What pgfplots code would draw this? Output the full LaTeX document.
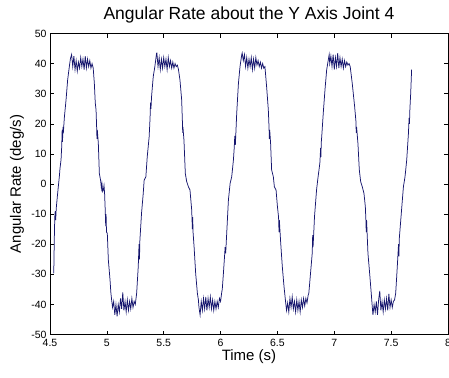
\documentclass[border=0pt]{standalone}
\usepackage{fontspec}
\setmainfont{Liberation Sans}
\usepackage{pgfplots}
\pgfplotsset{compat=1.18}
\definecolor{trace}{RGB}{22,22,110}
\begin{document}
\begin{tikzpicture}
\begin{axis}[
  name=ax,
  scale only axis,
  width=398pt, height=301pt,
  xmin=4.5, xmax=8, ymin=-50, ymax=50,
  xtick={4.5,5,5.5,6,6.5,7,7.5,8},
  ytick={-50,-40,-30,-20,-10,0,10,20,30,40,50},
  tick align=inside,
  major tick length=4pt,
  tick style={black, line width=0.5pt},
  axis line style={line width=0.6pt},
  /pgf/number format/assume math mode=true,
  ticklabel style={font=\fontsize{10.5}{12}\selectfont},
  xticklabel style={yshift=-1.5pt},
  title={Angular Rate about the Y Axis Joint 4},
  title style={font=\fontsize{17.5}{20}\selectfont, at={(axis description cs:0.5,1.0266)}, anchor=base},
  xlabel={Time (s)},
  xlabel style={font=\fontsize{15}{18}\selectfont, at={(axis description cs:0.5,-0.088)}, anchor=base},
  ylabel={Angular Rate (deg/s)},
  ylabel style={font=\fontsize{15}{18}\selectfont, at={(axis description cs:-0.0729,0.5)}, anchor=base},
]
\addplot[trace, line width=0.75pt, mark=none] coordinates {
(4.533,-29.7) (4.538,-18) (4.542,-11) (4.546,-9) (4.550,-12) (4.555,-8)
(4.565,-4) (4.573,-0.9) (4.582,2.4) (4.588,5.2) (4.597,8) (4.603,12.4)
(4.607,18) (4.610,14) (4.614,19) (4.617,16.8) (4.626,22) (4.641,27.9)
(4.655,34.5) (4.670,39) (4.680,41.7)
(4.69,43) (4.70,39) (4.71,42.5) (4.72,38) (4.73,41) (4.74,37.5) (4.75,40.5)
(4.76,38.5) (4.77,42) (4.78,39) (4.79,41.5) (4.80,38) (4.81,42.5) (4.82,38.5)
(4.83,41.5) (4.84,39) (4.85,41) (4.86,38.5) (4.87,40) (4.88,38.5)
(4.890,33.4) (4.898,27) (4.905,24.6) (4.910,19) (4.913,15) (4.916,18)
(4.925,13.5) (4.934,3.5) (4.946,1) (4.952,-1.5) (4.957,0) (4.963,-2.5)
(4.969,-2) (4.975,-0.5) (4.980,-3) (4.985,-8) (4.990,-14) (4.993,-10)
(4.997,-16) (5.004,-16.4) (5.013,-25.2) (5.028,-31.9) (5.035,-36) (5.042,-38.5)
(5.05,-41) (5.06,-39) (5.07,-43.5) (5.08,-40) (5.09,-44) (5.10,-40) (5.11,-42.5)
(5.12,-38) (5.13,-41.5) (5.14,-36) (5.15,-42) (5.16,-39) (5.17,-42.5) (5.18,-38.5)
(5.19,-42) (5.20,-39) (5.21,-41.5) (5.22,-38) (5.23,-41) (5.24,-39) (5.25,-40)
(5.262,-36.3) (5.276,-27.5) (5.283,-20) (5.287,-25) (5.290,-19) (5.305,-9.7)
(5.320,-3.1) (5.328,1.3) (5.343,2.4) (5.355,9) (5.372,15.7) (5.380,22)
(5.384,27) (5.388,25) (5.393,29) (5.408,35.7) (5.422,39) (5.437,43.4)
(5.44,43.5) (5.45,39) (5.46,42) (5.47,38) (5.48,41.5) (5.49,38.5) (5.50,42)
(5.51,39) (5.52,41.5) (5.53,38) (5.54,42) (5.55,39) (5.56,41) (5.57,38.5)
(5.58,40.5) (5.59,38.5) (5.60,40) (5.61,39) (5.62,39.5) (5.63,38)
(5.643,34.5) (5.658,27.9) (5.665,20) (5.667,17) (5.669,19) (5.678,14.6)
(5.690,3.5) (5.702,0.8) (5.717,-0.9) (5.731,-2) (5.746,-8.6) (5.752,-15)
(5.755,-11) (5.758,-16) (5.767,-20.8) (5.781,-29.7) (5.796,-36.3) (5.805,-38.5)
(5.81,-41) (5.82,-43.5) (5.83,-39) (5.84,-42) (5.85,-38) (5.86,-41.5) (5.87,-37.5)
(5.88,-42) (5.89,-38) (5.90,-41) (5.91,-37.5) (5.92,-41.5) (5.93,-38.5) (5.94,-42)
(5.95,-39) (5.96,-41.5) (5.97,-39) (5.98,-41) (5.99,-38) (6.00,-39) (6.01,-36)
(6.015,-35) (6.025,-29.7) (6.035,-24) (6.040,-21) (6.045,-23) (6.054,-16.4)
(6.069,-5.3) (6.084,0.2) (6.098,2.4) (6.113,8) (6.120,12) (6.125,16) (6.130,13)
(6.142,23.5) (6.157,33.4) (6.171,39) (6.186,42.9)
(6.19,43.5) (6.20,41) (6.21,43) (6.22,39) (6.23,42) (6.24,38.5) (6.25,41.5)
(6.26,39) (6.27,42) (6.28,38) (6.29,41.5) (6.30,38.5) (6.31,42) (6.32,39.5)
(6.33,41) (6.34,39) (6.35,40.5) (6.36,38.5) (6.37,40) (6.38,38.5) (6.39,39)
(6.405,32.3) (6.420,24.6) (6.426,19) (6.429,15) (6.432,18) (6.440,13.5)
(6.449,4.7) (6.464,2.4) (6.473,-0.9) (6.488,-2) (6.500,-7.5) (6.510,-11)
(6.514,-16) (6.517,-12) (6.520,-14) (6.529,-19.7) (6.543,-27.5) (6.558,-34.1)
(6.570,-38.5)
(6.58,-42) (6.59,-39.5) (6.60,-42.5) (6.61,-38) (6.62,-41) (6.63,-37.5) (6.64,-41.5)
(6.65,-39) (6.66,-42.5) (6.67,-38.5) (6.68,-42) (6.69,-39) (6.70,-42.5) (6.71,-38.5)
(6.72,-41) (6.73,-38) (6.74,-40.5) (6.75,-38) (6.76,-39.5) (6.77,-37)
(6.776,-36.3) (6.791,-29.7) (6.806,-23) (6.810,-17) (6.813,-21) (6.815,-19.7)
(6.826,-10.9) (6.844,-2) (6.856,1.9) (6.873,6.9) (6.880,12) (6.883,9)
(6.885,13.5) (6.890,16) (6.903,23.5) (6.918,31.2) (6.933,37.9) (6.947,41.2)
(6.955,43) (6.96,40) (6.97,42.5) (6.98,39) (6.99,43) (7.00,38) (7.01,42)
(7.02,39) (7.03,43.5) (7.04,38.5) (7.05,42) (7.06,39) (7.07,41.5) (7.08,38.5)
(7.09,41) (7.10,39) (7.11,40.5) (7.12,39.5) (7.13,40) (7.14,39)
(7.158,33.4) (7.179,25.7) (7.190,21) (7.193,17) (7.196,19) (7.208,13.5)
(7.220,4.7) (7.232,0.8) (7.246,-0.9) (7.261,-3.1) (7.273,-7.5) (7.278,-12)
(7.281,-16) (7.284,-12) (7.296,-23) (7.311,-29.7) (7.325,-36.3) (7.334,-40.8)
(7.34,-43.5) (7.35,-40) (7.36,-42.5) (7.37,-39) (7.38,-43.5) (7.39,-38.5)
(7.40,-35.5) (7.41,-42) (7.42,-39) (7.43,-42.5) (7.44,-38.5) (7.45,-41.5)
(7.46,-38) (7.47,-42) (7.48,-36.5) (7.49,-41) (7.50,-38.5) (7.51,-41) (7.52,-39)
(7.53,-38.5) (7.54,-36.3)
(7.554,-27.5) (7.565,-20) (7.568,-24) (7.572,-18) (7.594,-7.5) (7.608,-0.9)
(7.622,2.4) (7.637,8) (7.652,16.8) (7.658,22) (7.661,20) (7.665,25)
(7.672,30.1) (7.680,38)
};
\end{axis}
\pgfresetboundingbox
\path[use as bounding box] ([xshift=-50pt,yshift=-42.5pt]ax.south west) rectangle ([xshift=1pt,yshift=33.5pt]ax.north east);
\end{tikzpicture}
\end{document}
